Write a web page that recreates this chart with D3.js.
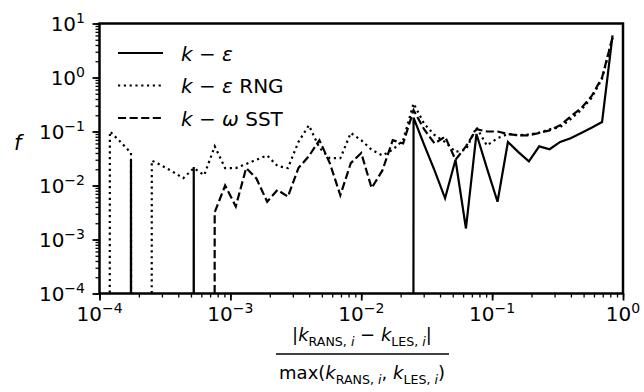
<!DOCTYPE html>
<html>
<head>
<meta charset="utf-8">
<script src="https://cdn.jsdelivr.net/npm/d3@7"></script>
<style>
  body { margin: 0; background: #fff; }
  svg { display: block; font-family: "DejaVu Sans", sans-serif; }
</style>
</head>
<body>
<script>
// bin positions on the x axis (|k_RANS - k_LES| / max)
const binX = [1.00e-4, 1.20e-4, 1.45e-4, 1.74e-4, 2.09e-4, 2.51e-4, 3.02e-4, 3.63e-4, 4.37e-4, 5.25e-4,
  6.31e-4, 7.59e-4, 9.12e-4, 1.10e-3, 1.32e-3, 1.58e-3, 1.91e-3, 2.29e-3, 2.75e-3, 3.31e-3,
  3.98e-3, 4.79e-3, 5.75e-3, 6.92e-3, 8.32e-3, 0.0100, 0.0120, 0.0145, 0.0174, 0.0209,
  0.0251, 0.0302, 0.0363, 0.0437, 0.0525, 0.0631, 0.0759, 0.0912, 0.110, 0.132,
  0.158, 0.191, 0.229, 0.275, 0.331, 0.398, 0.479, 0.575, 0.692, 0.832];

// f for each model (0 = empty bin)
const fKEps = [0, 0, 0, 0.03, 0, 0, 0, 0, 0, 0.022,
  0, 0, 0, 0, 0, 0, 0, 0, 0, 0,
  0, 0, 0, 0, 0, 0, 0, 0, 0, 0,
  0.18, 0.057, 0.019, 0.0058, 0.03, 0.0016, 0.09, 0.021, 0.005, 0.064,
  0.042, 0.028, 0.053, 0.047, 0.064, 0.075, 0.094, 0.117, 0.15, 6.0];
const fRNG = [0, 0.1, 0.064, 0.04, 0, 0.029, 0.023, 0.018, 0.0137, 0.021,
  0.0155, 0.053, 0.021, 0.021, 0.025, 0.030, 0.036, 0.023, 0.021, 0.064,
  0.13, 0.05, 0.032, 0.032, 0.094, 0.069, 0.046, 0.036, 0.046, 0.069,
  0.33, 0.14, 0.086, 0.064, 0.042, 0.046, 0.12, 0.055, 0.075, 0.09,
  0.085, 0.088, 0.095, 0.11, 0.12, 0.17, 0.25, 0.42, 0.95, 5.5];
const fSST = [0, 0, 0, 0, 0, 0, 0, 0, 0, 0,
  0, 0.0032, 0.010, 0.0041, 0.021, 0.0135, 0.005, 0.0083, 0.0062, 0.021,
  0.035, 0.069, 0.026, 0.0066, 0.026, 0.04, 0.009, 0.019, 0.069, 0.06,
  0.25, 0.11, 0.06, 0.08, 0.03, 0.053, 0.11, 0.1, 0.1, 0.09,
  0.085, 0.085, 0.094, 0.105, 0.13, 0.19, 0.27, 0.45, 1.0, 5.5];

const xTickExp = [-4, -3, -2, -1, 0];
const yTickExp = [1, 0, -1, -2, -3, -4];

const width = 644, height = 392;
const margin = {top: 23.5, right: 21, bottom: 98.5, left: 99.5};

const svg = d3.select("body").append("svg")
    .attr("width", width)
    .attr("height", height);

const x = d3.scaleLog()
    .domain([1e-4, 1])
    .range([margin.left, width - margin.right]);

const y = d3.scaleLog()
    .domain([1e-4, 10])
    .range([height - margin.bottom, margin.top]);

svg.append("clipPath").attr("id", "plot")
  .append("rect")
    .attr("x", margin.left).attr("y", margin.top)
    .attr("width", x.range()[1] - x.range()[0])
    .attr("height", y.range()[0] - y.range()[1]);

// minor + major ticks
const xAxisMinor = d3.axisBottom(x).tickValues(x.ticks()).tickSize(4).tickFormat("");
const xAxisMajor = d3.axisBottom(x).tickValues(xTickExp.map(e => Math.pow(10, e))).tickSize(7).tickFormat("");
const yAxisMinor = d3.axisLeft(y).tickValues(y.ticks()).tickSize(4).tickFormat("");
const yAxisMajor = d3.axisLeft(y).tickValues(yTickExp.map(e => Math.pow(10, e))).tickSize(7).tickFormat("");

const styleAxis = (g, w) => {
  g.select(".domain").remove();
  g.selectAll(".tick line").attr("stroke", "#000").attr("stroke-width", w);
};

svg.append("g").attr("transform", `translate(0,${y.range()[0]})`).call(xAxisMinor).call(g => styleAxis(g, 1.3));
svg.append("g").attr("transform", `translate(0,${y.range()[0]})`).call(xAxisMajor).call(g => styleAxis(g, 1.8));
svg.append("g").attr("transform", `translate(${x.range()[0]},0)`).call(yAxisMinor).call(g => styleAxis(g, 1.3));
svg.append("g").attr("transform", `translate(${x.range()[0]},0)`).call(yAxisMajor).call(g => styleAxis(g, 1.8));

// text made of pieces: {t, it (italic), sub, sup}
function mathText(sel, parts, base) {
  let shift = 0;
  parts.forEach(p => {
    const s = p.sub ? 4.5 : p.sup ? -8 : 0;
    sel.append("tspan")
        .attr("dy", s - shift)
        .attr("font-size", p.sub || p.sup ? base * 0.7 : base)
        .attr("font-style", p.it ? "italic" : null)
        .text(p.t);
    shift = s;
  });
  return sel;
}

const expText = e => (e < 0 ? "\u2212" : "") + Math.abs(e);

xTickExp.forEach(e => {
  mathText(svg.append("text")
      .attr("x", x(Math.pow(10, e)))
      .attr("y", 321)
      .attr("text-anchor", "middle"),
    [{t: "10"}, {t: expText(e), sup: true}], 20);
});

yTickExp.forEach(e => {
  mathText(svg.append("text")
      .attr("x", 85)
      .attr("y", y(Math.pow(10, e)) + 7.5)
      .attr("text-anchor", "end"),
    [{t: "10"}, {t: expText(e), sup: true}], 20);
});

// y label
svg.append("text")
    .attr("x", 14)
    .attr("y", 150)
    .attr("font-size", 21)
    .attr("font-style", "italic")
    .text("f");

// x label as a fraction
mathText(svg.append("text").attr("x", 362).attr("y", 341).attr("text-anchor", "middle"),
  [{t: "|"}, {t: "k", it: true}, {t: "RANS, ", sub: true}, {t: "i", sub: true, it: true},
   {t: " \u2212 "}, {t: "k", it: true}, {t: "LES, ", sub: true}, {t: "i", sub: true, it: true}, {t: "|"}], 18);
svg.append("line")
    .attr("x1", 276).attr("x2", 449)
    .attr("y1", 354).attr("y2", 354)
    .attr("stroke", "#000").attr("stroke-width", 1.3);
mathText(svg.append("text").attr("x", 362).attr("y", 379).attr("text-anchor", "middle"),
  [{t: "max("}, {t: "k", it: true}, {t: "RANS, ", sub: true}, {t: "i", sub: true, it: true},
   {t: ", "}, {t: "k", it: true}, {t: "LES, ", sub: true}, {t: "i", sub: true, it: true}, {t: ")"}], 18);

// series
const series = [
  {f: fKEps, dash: null},
  {f: fRNG, dash: "2.2,3.6"},
  {f: fSST, dash: "8.1,3.5"}
];

// empty bins go far below the axis like matplotlib's clipping
const line = d3.line()
    .x((d, i) => x(binX[i]))
    .y(d => y(Math.max(d, 1e-300)));

svg.append("g").attr("clip-path", "url(#plot)")
  .selectAll("path")
  .data(series)
  .join("path")
    .attr("d", d => line(d.f))
    .attr("fill", "none")
    .attr("stroke", "#000")
    .attr("stroke-width", 2.2)
    .attr("stroke-dasharray", d => d.dash);

// frame
svg.append("rect")
    .attr("x", margin.left).attr("y", margin.top)
    .attr("width", x.range()[1] - x.range()[0])
    .attr("height", y.range()[0] - y.range()[1])
    .attr("fill", "none")
    .attr("stroke", "#000")
    .attr("stroke-width", 2.5);

// legend
const legendLabels = [
  [{t: "k", it: true}, {t: " \u2212 "}, {t: "\u03b5", it: true}],
  [{t: "k", it: true}, {t: " \u2212 "}, {t: "\u03b5", it: true}, {t: " RNG"}],
  [{t: "k", it: true}, {t: " \u2212 "}, {t: "\u03c9", it: true}, {t: " SST"}]
];
const legend = svg.append("g");
legendLabels.forEach((lab, i) => {
  const ly = 53 + i * 32.5;
  legend.append("line")
      .attr("x1", 118).attr("x2", 163)
      .attr("y1", ly).attr("y2", ly)
      .attr("stroke", "#000")
      .attr("stroke-width", 2.2)
      .attr("stroke-dasharray", series[i].dash);
  mathText(legend.append("text").attr("x", 181).attr("y", ly + 7.5), lab, 20);
});
</script>
</body>
</html>
